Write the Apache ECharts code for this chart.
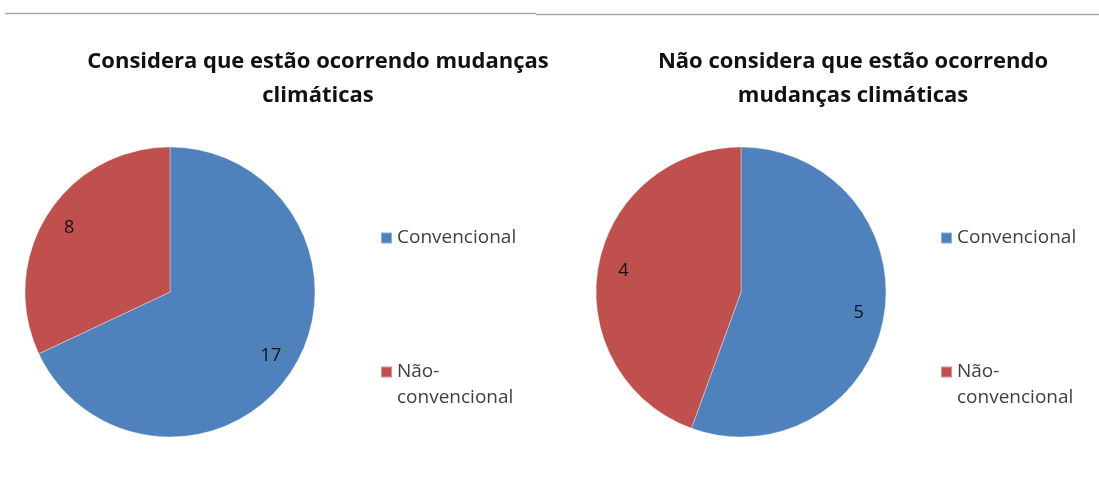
<!DOCTYPE html>
<html><head><meta charset="utf-8">
<script src="https://cdn.jsdelivr.net/npm/echarts@6/dist/echarts.min.js"></script>
<style>html,body{margin:0;padding:0;background:#fff}#c{width:1099px;height:479px}</style>
</head><body><div id="c"></div>
<script>
const categories = ['Convencional', 'Não-\nconvencional'];
const titleLeft = 'Considera que estão ocorrendo mudanças\nclimáticas';
const titleRight = 'Não considera que estão ocorrendo\nmudanças climáticas';
const valuesLeft = [17, 8];
const valuesRight = [5, 4];
const colors = ['#4F81BD', '#C0504D'];

const chart = echarts.init(document.getElementById('c'));
const FONT = 'Open Sans';
function pieData(vals){ return categories.map((n,i)=>({name:n, value:vals[i], itemStyle:{color:colors[i]}})); }
function pieSeries(vals, cx){
  return [{
    type:'pie', center:[cx, 292], radius:145, startAngle:90, clockwise:true,
    data: pieData(vals), label:{show:false}, labelLine:{show:false},
    itemStyle:{borderColor:'rgba(255,255,255,0.35)', borderWidth:1},
    emphasis:{disabled:true}, animation:false
  },{
    type:'pie', center:[cx, 292], radius:[88,145], startAngle:90, clockwise:true,
    data: pieData(vals).map(d=>({...d, itemStyle:{color:'rgba(0,0,0,0)'}})),
    label:{show:true, position:'inside', formatter:'{c}', color:'#111', fontFamily:FONT, fontSize:18},
    labelLine:{show:false}, silent:true, emphasis:{disabled:true}, animation:false
  }];
}
function legend(left){
  return {
    orient:'vertical', left:left, top:225, padding:0, itemGap:82, itemWidth:11, itemHeight:11,
    icon:'rect', data:categories, selectedMode:false,
    formatter: n => n.indexOf('\n') >= 0 ? ' \n' + n : n,
    textStyle:{fontFamily:FONT, fontSize:19, color:'#404040', lineHeight:26}
  };
}
const titleStyle = {fontFamily:FONT, fontWeight:'bold', fontSize:22, color:'#111', lineHeight:34};
chart.setOption({
  animation:false,
  title:[
    {text:titleLeft, left:313, top:40, textAlign:'center', textStyle:titleStyle},
    {text:titleRight, left:848, top:40, textAlign:'center', textStyle:titleStyle}
  ],
  legend:[legend(380), legend(940)],
  series:[...pieSeries(valuesLeft,170), ...pieSeries(valuesRight,741)],
  graphic:[
    {type:'line', shape:{x1:5,y1:13.5,x2:536,y2:13.5}, style:{stroke:'#aaa', lineWidth:1.5}},
    {type:'line', shape:{x1:536,y1:14.5,x2:1099,y2:14.5}, style:{stroke:'#aaa', lineWidth:1.5}}
  ]
});
</script></body></html>
